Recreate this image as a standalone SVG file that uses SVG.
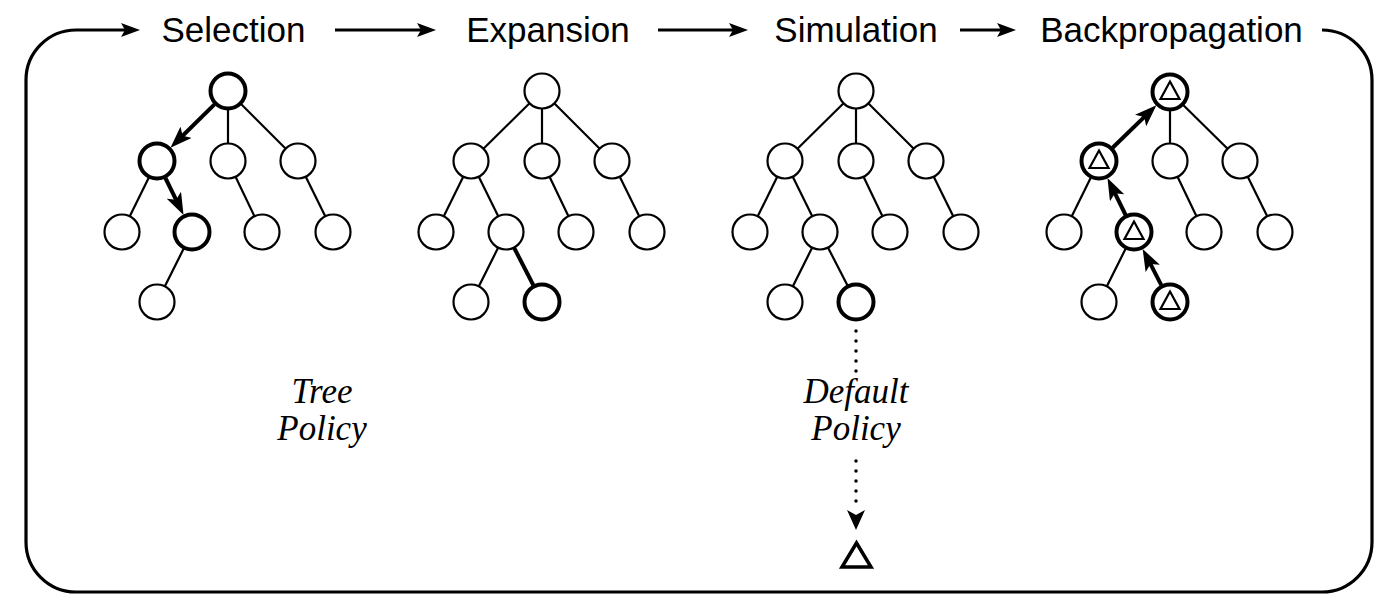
<svg xmlns="http://www.w3.org/2000/svg" width="1395" height="615" viewBox="0 0 1395 615">
<style>
.title{font-family:"Liberation Sans",Arial,sans-serif;font-size:35px;fill:#000;text-anchor:middle}
.pol{font-family:"Liberation Serif","Times New Roman",serif;font-style:italic;font-size:35px;fill:#000;text-anchor:middle}
.n{fill:#fff;stroke:#000;stroke-width:2.2}
.nt{fill:#fff;stroke:#000;stroke-width:4}
.e{stroke:#000;stroke-width:2.2;fill:none}
.et{stroke:#000;stroke-width:4;fill:none}
.tri{fill:none;stroke:#000;stroke-width:2.2;stroke-linejoin:miter}
.frame{fill:none;stroke:#000;stroke-width:3.2}
</style>
<defs>
<marker id="ta" markerUnits="userSpaceOnUse" viewBox="0 0 19 14" refX="9" refY="7" markerWidth="19" markerHeight="14" orient="auto">
<path d="M0,0 L19,7 L0,14 L4,7 z" fill="#000"/>
</marker>
<marker id="ah" markerUnits="userSpaceOnUse" viewBox="0 0 22 16" refX="11" refY="8" markerWidth="22" markerHeight="16" orient="auto">
<path d="M0,0 L22,8 L0,16 L5,8 z" fill="#000"/>
</marker>
<marker id="dh" markerUnits="userSpaceOnUse" viewBox="0 0 20 18" refX="10" refY="9" markerWidth="20" markerHeight="18" orient="auto">
<path d="M0,0 L20,9 L0,18 L5,9 z" fill="#000"/>
</marker>
</defs>

<g id="frame">
<path class="frame" d="M1322,30 A50,50 0 0 1 1372,80 L1372,542 A50,50 0 0 1 1322,592 L76,592 A50,50 0 0 1 26,542 L26,80 A50,50 0 0 1 76,30 L130,30" marker-end="url(#ta)"/>
</g>

<g id="connectors">
<line class="frame" x1="335" y1="30" x2="426" y2="30" marker-end="url(#ta)"/>
<line class="frame" x1="658" y1="30" x2="738" y2="30" marker-end="url(#ta)"/>
<line class="frame" x1="960" y1="30" x2="1006" y2="30" marker-end="url(#ta)"/>

<!-- Selection tree edges (rx=228) -->
<line class="e" x1="228" y1="91" x2="228" y2="161"/>
<line class="e" x1="228" y1="91" x2="298" y2="161"/>
<line class="e" x1="157" y1="161" x2="122" y2="232"/>
<line class="e" x1="228" y1="161" x2="262" y2="232"/>
<line class="e" x1="298" y1="161" x2="333" y2="232"/>
<line class="e" x1="192" y1="232" x2="157" y2="302"/>
<line class="et" x1="214.5" y1="104.3" x2="178.3" y2="140" marker-end="url(#ah)"/>
<line class="et" x1="165.4" y1="178" x2="178.7" y2="205.1" marker-end="url(#ah)"/>

<!-- Expansion tree edges (rx=542) -->
<line class="e" x1="542" y1="91" x2="471" y2="161"/>
<line class="e" x1="542" y1="91" x2="542" y2="161"/>
<line class="e" x1="542" y1="91" x2="612" y2="161"/>
<line class="e" x1="471" y1="161" x2="436" y2="232"/>
<line class="e" x1="471" y1="161" x2="506" y2="232"/>
<line class="e" x1="542" y1="161" x2="576" y2="232"/>
<line class="e" x1="612" y1="161" x2="647" y2="232"/>
<line class="e" x1="506" y1="232" x2="471" y2="302"/>
<line class="et" x1="506" y1="232" x2="542" y2="302"/>

<!-- Simulation tree edges (rx=856) -->
<line class="e" x1="856" y1="91" x2="785" y2="161"/>
<line class="e" x1="856" y1="91" x2="856" y2="161"/>
<line class="e" x1="856" y1="91" x2="926" y2="161"/>
<line class="e" x1="785" y1="161" x2="750" y2="232"/>
<line class="e" x1="785" y1="161" x2="820" y2="232"/>
<line class="e" x1="856" y1="161" x2="890" y2="232"/>
<line class="e" x1="926" y1="161" x2="961" y2="232"/>
<line class="e" x1="820" y1="232" x2="785" y2="302"/>
<line class="e" x1="820" y1="232" x2="856" y2="302"/>
<line x1="856" y1="331" x2="856" y2="372" stroke="#000" stroke-width="3.5" stroke-linecap="round" stroke-dasharray="0 10"/>
<line x1="856" y1="461" x2="856" y2="511" stroke="#000" stroke-width="3.5" stroke-linecap="round" stroke-dasharray="0 10"/>
<path d="M856,511 L856,520" stroke="none" fill="none" marker-end="url(#dh)"/>

<!-- Backpropagation tree edges (rx=1170) -->
<line class="e" x1="1170" y1="92" x2="1170" y2="161"/>
<line class="e" x1="1170" y1="92" x2="1240" y2="161"/>
<line class="e" x1="1099" y1="161" x2="1064" y2="232"/>
<line class="e" x1="1170" y1="161" x2="1204" y2="232"/>
<line class="e" x1="1240" y1="161" x2="1275" y2="232"/>
<line class="e" x1="1134" y1="232" x2="1099" y2="302"/>
<line class="et" x1="1161.3" y1="285.1" x2="1147.7" y2="258.7" marker-end="url(#ah)"/>
<line class="et" x1="1125.6" y1="215" x2="1112.3" y2="187.9" marker-end="url(#ah)"/>
<line class="et" x1="1112.6" y1="147.8" x2="1148.5" y2="112.9" marker-end="url(#ah)"/>
</g>

<g id="titles">
<text class="title" x="233.5" y="42">Selection</text>
<text class="title" x="548" y="42">Expansion</text>
<text class="title" x="856" y="42">Simulation</text>
<text class="title" x="1171.5" y="42">Backpropagation</text>
</g>

<g id="selection">
<circle class="nt" cx="228" cy="91" r="17.5"/>
<circle class="nt" cx="157" cy="161" r="17.5"/>
<circle class="n" cx="228" cy="161" r="17.5"/>
<circle class="n" cx="298" cy="161" r="17.5"/>
<circle class="n" cx="122" cy="232" r="17.5"/>
<circle class="nt" cx="192" cy="232" r="17.5"/>
<circle class="n" cx="262" cy="232" r="17.5"/>
<circle class="n" cx="333" cy="232" r="17.5"/>
<circle class="n" cx="157" cy="302" r="17.5"/>
</g>

<g id="expansion">
<circle class="n" cx="542" cy="91" r="17.5"/>
<circle class="n" cx="471" cy="161" r="17.5"/>
<circle class="n" cx="542" cy="161" r="17.5"/>
<circle class="n" cx="612" cy="161" r="17.5"/>
<circle class="n" cx="436" cy="232" r="17.5"/>
<circle class="n" cx="506" cy="232" r="17.5"/>
<circle class="n" cx="576" cy="232" r="17.5"/>
<circle class="n" cx="647" cy="232" r="17.5"/>
<circle class="n" cx="471" cy="302" r="17.5"/>
<circle class="nt" cx="542" cy="302" r="17.5"/>
</g>

<g id="simulation">
<circle class="n" cx="856" cy="91" r="17.5"/>
<circle class="n" cx="785" cy="161" r="17.5"/>
<circle class="n" cx="856" cy="161" r="17.5"/>
<circle class="n" cx="926" cy="161" r="17.5"/>
<circle class="n" cx="750" cy="232" r="17.5"/>
<circle class="n" cx="820" cy="232" r="17.5"/>
<circle class="n" cx="890" cy="232" r="17.5"/>
<circle class="n" cx="961" cy="232" r="17.5"/>
<circle class="n" cx="785" cy="302" r="17.5"/>
<circle class="nt" cx="856" cy="302" r="17.5"/>
</g>

<g id="terminal">
<path d="M856.5,543 L871,567 L842,567 Z" fill="none" stroke="#000" stroke-width="3.5"/>
</g>

<g id="backpropagation">
<circle class="nt" cx="1170" cy="92" r="17.5"/>
<path class="tri" d="M1170,81.5 L1179.5,99 L1160.5,99 Z"/>
<circle class="nt" cx="1099" cy="161" r="17.5"/>
<path class="tri" d="M1099,150.5 L1108.5,168 L1089.5,168 Z"/>
<circle class="n" cx="1170" cy="161" r="17.5"/>
<circle class="n" cx="1240" cy="161" r="17.5"/>
<circle class="n" cx="1064" cy="232" r="17.5"/>
<circle class="nt" cx="1134" cy="232" r="17.5"/>
<path class="tri" d="M1134,221.5 L1143.5,239 L1124.5,239 Z"/>
<circle class="n" cx="1204" cy="232" r="17.5"/>
<circle class="n" cx="1275" cy="232" r="17.5"/>
<circle class="n" cx="1099" cy="302" r="17.5"/>
<circle class="nt" cx="1170" cy="302" r="17.5"/>
<path class="tri" d="M1170,291.5 L1179.5,309 L1160.5,309 Z"/>
</g>

<g id="policies">
<text class="pol" x="322" y="403">Tree</text>
<text class="pol" x="322" y="440">Policy</text>
<text class="pol" x="856" y="403">Default</text>
<text class="pol" x="856" y="440">Policy</text>
</g>
</svg>
